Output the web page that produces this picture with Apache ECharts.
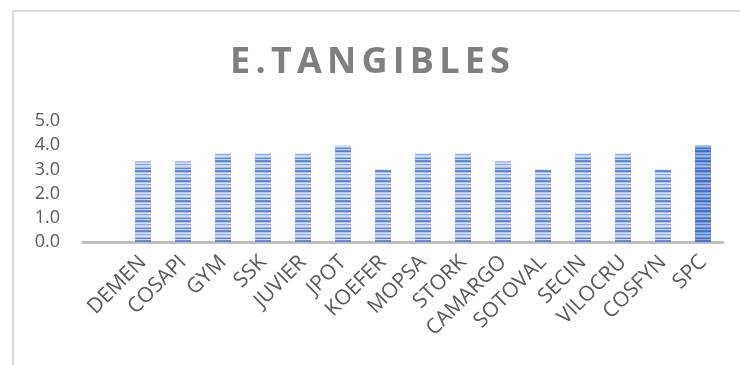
<!DOCTYPE html>
<html>
<head>
<meta charset="utf-8">
<script src="https://cdn.jsdelivr.net/npm/echarts@6/dist/echarts.min.js"></script>
<style>
  html, body { margin: 0; padding: 0; background: #fff; }
  #chart { width: 740px; height: 365px; }
</style>
</head>
<body>
<div id="chart"></div>
<script>
// first slot is empty in the original sheet
const categories = ['', 'DEMEN', 'COSAPI', 'GYM', 'SSK', 'JUVIER', 'JPOT', 'KOEFER', 'MOPSA', 'STORK', 'CAMARGO', 'SOTOVAL', 'SECIN', 'VILOCRU', 'COSFYN', 'SPC']
const values = [null, 3.33, 3.33, 3.67, 3.67, 3.67, 4.0, 3.0, 3.67, 3.67, 3.33, 3.0, 3.67, 3.67, 3.0, 4.0]
const yTicks = [0, 1, 2, 3, 4, 5]
const titleText = 'E.TANGIBLES'

// striped fill like the excel pattern
const stripes = (rows) => {
  const c = document.createElement('canvas')
  c.width = 16
  c.height = rows.length
  const ctx = c.getContext('2d')
  rows.forEach((col, i) => {
    ctx.fillStyle = col
    ctx.fillRect(0, i, 16, 1)
  })
  return { image: c, repeat: 'repeat' }
}
const lightFill = stripes(['#6c8fd4', '#5a80cc', '#b6c8ea', '#d4dff3', '#8ba8df', '#c6d4ef', '#d4dff3', '#a6bbe5', '#5f84ce', '#c9d6f0'])
const darkFill = stripes(['#4e77c8', '#3f6bc2', '#7d9ddb', '#96b0e2', '#5880cc', '#8aa7df', '#a3bbe6', '#6a8ed4', '#4a74c6', '#8eaade'])

// letter spaced title via rich text
const spacedTitle = titleText.split('').map(ch => '{c|' + ch + '}').join('')
const titleFont = { fontFamily: 'Open Sans', fontWeight: 'bold', fontSize: 36, color: '#7f7f7f' }

const chart = echarts.init(document.getElementById('chart'))
chart.setOption({
  backgroundColor: '#fff',
  animation: false,
  title: {
    text: spacedTitle,
    left: 'center',
    top: 40,
    textStyle: Object.assign({}, titleFont, {
      rich: { c: Object.assign({}, titleFont, { padding: [0, 2.6] }) }
    })
  },
  graphic: [
    { type: 'line', shape: { x1: 13, y1: 11, x2: 740, y2: 11 }, style: { stroke: '#d9d9d9', lineWidth: 2 } },
    { type: 'line', shape: { x1: 13, y1: 11, x2: 13, y2: 365 }, style: { stroke: '#d9d9d9', lineWidth: 2 } }
  ],
  grid: { left: 83, right: 17, top: 121, bottom: 123 },
  xAxis: {
    type: 'category',
    data: categories,
    axisLine: { lineStyle: { color: '#bfbfbf', width: 3 } },
    axisTick: { show: false },
    axisLabel: { interval: 0, rotate: 45, margin: 17, color: '#595959', fontSize: 21, fontFamily: 'Open Sans' }
  },
  yAxis: {
    type: 'value',
    min: yTicks[0],
    max: yTicks[yTicks.length - 1],
    interval: 1,
    axisLine: { show: false },
    axisTick: { show: false },
    splitLine: { show: false },
    axisLabel: {
      margin: 23,
      color: '#595959',
      fontSize: 18,
      fontFamily: 'Open Sans',
      formatter: (v) => v.toFixed(1)
    }
  },
  series: [{
    type: 'bar',
    barWidth: 16,
    data: values.map((v, i) => ({
      value: v,
      itemStyle: { color: i === values.length - 1 ? darkFill : lightFill }
    }))
  }]
})
</script>
</body>
</html>
